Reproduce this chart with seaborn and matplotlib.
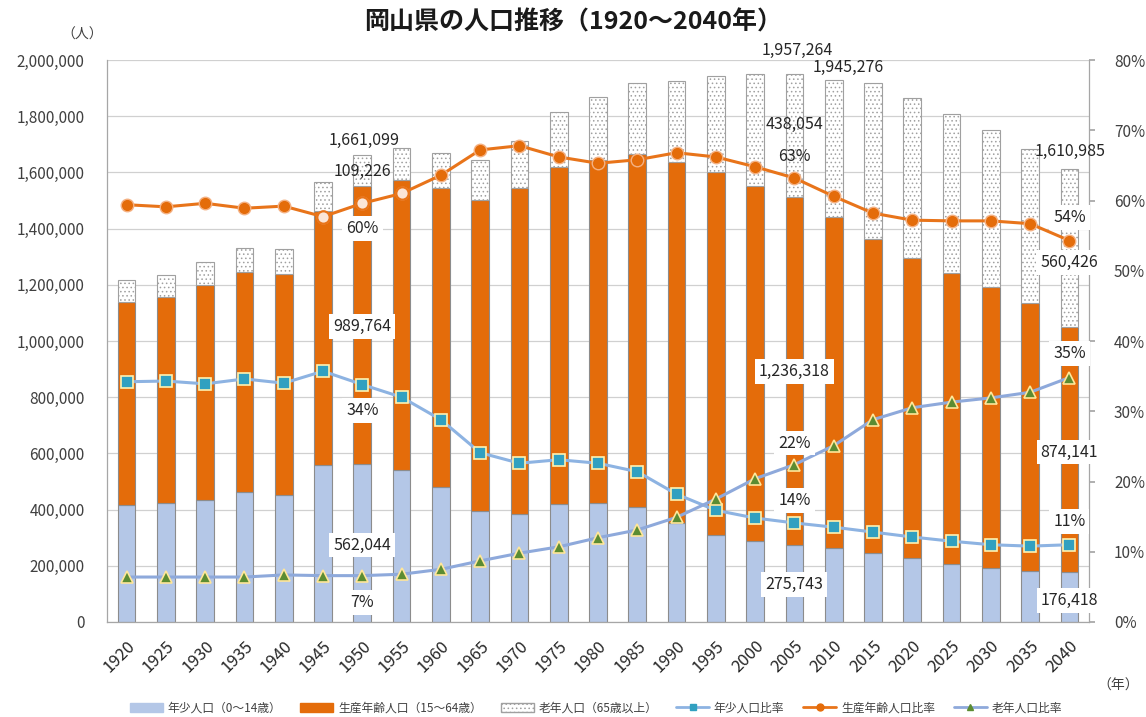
import numpy as np
import pandas as pd
import matplotlib
matplotlib.use("Agg")
import matplotlib.pyplot as plt
from matplotlib.ticker import FuncFormatter, FixedLocator
from matplotlib.patches import Patch
from matplotlib.lines import Line2D
import seaborn as sns

years = ["1920", "1925", "1930", "1935", "1940", "1945", "1950", "1955", "1960", "1965",
         "1970", "1975", "1980", "1985", "1990", "1995", "2000", "2005", "2010", "2015",
         "2020", "2025", "2030", "2035", "2040"]
young = [416000, 425000, 435000, 461000, 452000, 559000, 562044, 541000, 481000, 396000,
         386000, 419000, 423000, 410000, 351000, 310000, 289000, 275743, 263000, 246000,
         226000, 208000, 193000, 182000, 176418]
working = [723000, 732000, 765000, 785000, 787000, 903000, 989764, 1031000, 1062000, 1105000,
           1157000, 1201000, 1222000, 1256000, 1286000, 1291000, 1264000, 1236318, 1179000, 1118000,
           1070000, 1034000, 1000000, 953000, 874141]
elderly = [78000, 79000, 82000, 85000, 89000, 103000, 109226, 115000, 125000, 143000,
           167000, 194000, 225000, 251000, 287000, 341000, 398000, 438054, 488000, 553000,
           570000, 567000, 558000, 550000, 560426]
young_ratio = [34.2, 34.3, 33.9, 34.6, 34.0, 35.7, 33.8, 32.0, 28.8, 24.1,
               22.6, 23.1, 22.6, 21.4, 18.2, 15.9, 14.8, 14.1, 13.5, 12.8,
               12.1, 11.5, 11.0, 10.8, 11.0]
working_ratio = [59.4, 59.1, 59.6, 58.9, 59.2, 57.7, 59.6, 61.0, 63.6, 67.2,
                 67.8, 66.2, 65.3, 65.8, 66.8, 66.2, 64.8, 63.2, 60.6, 58.2,
                 57.2, 57.1, 57.1, 56.7, 54.3]
elderly_ratio = [6.4, 6.4, 6.4, 6.4, 6.7, 6.6, 6.6, 6.8, 7.5, 8.7,
                 9.8, 10.7, 12.0, 13.1, 14.9, 17.5, 20.4, 22.4, 25.1, 28.8,
                 30.5, 31.3, 31.9, 32.7, 34.8]
# working-ratio points drawn with a pale (hollow-looking) marker in the reference
pale_points = ["1945", "1950", "1955"]

# annotation texts: (text, x index, y value on left axis, boxed)
labels = [
    ("1,661,099", 6.04, 1712000, False),
    ("109,226", 6.0, 1602000, False),
    ("60%", 6.0, 1402000, True),
    ("989,764", 6.0, 1050000, True),
    ("34%", 6.0, 754000, True),
    ("562,044", 6.0, 274000, True),
    ("7%", 6.0, 68000, True),
    ("1,957,264", 17.06, 2033000, False),
    ("1,945,276", 18.36, 1972000, False),
    ("438,054", 17.0, 1769000, False),
    ("63%", 17.0, 1658000, False),
    ("1,236,318", 17.0, 890000, True),
    ("22%", 17.0, 637000, True),
    ("14%", 17.0, 434000, True),
    ("275,743", 17.0, 132000, True),
    ("1,610,985", 24.03, 1673000, False),
    ("54%", 24.0, 1441000, True),
    ("560,426", 24.0, 1278000, True),
    ("35%", 24.0, 957000, True),
    ("874,141", 24.0, 605000, True),
    ("11%", 24.0, 356000, True),
    ("176,418", 24.0, 78000, True),
]

sns.set_theme(style="white")
plt.rcParams["font.family"] = ["Noto Sans CJK JP", "DejaVu Sans"]
plt.rcParams["hatch.linewidth"] = 0.6

C_YOUNG = "#b4c7e7"
C_WORK = "#e46c0a"
C_EDGE = "#8c8c8c"
C_TEXT = "#404040"

fig = plt.figure(figsize=(11.46, 7.17), dpi=100)
ax = fig.add_axes([107 / 1146, 1 - 622 / 717, (1089 - 107) / 1146, (622 - 60) / 717])

idx = np.arange(len(years))
df = pd.DataFrame({"idx": idx, "year": years, "young": young, "working": working,
                   "elderly": elderly, "yr": young_ratio, "wr": working_ratio,
                   "er": elderly_ratio})

bw = 0.45
ax.bar(idx, df["young"], width=bw, color=C_YOUNG, edgecolor=C_EDGE, linewidth=0.8, zorder=2)
ax.bar(idx, df["working"], bottom=df["young"], width=bw, color=C_WORK, edgecolor=C_EDGE,
       linewidth=0.8, zorder=2)
ax.bar(idx, df["elderly"], bottom=df["young"] + df["working"], width=bw, color="white",
       edgecolor="#a0a0a0", hatch="....", linewidth=0.8, zorder=2)

ax.set_xlim(-0.5, 24.5)
ax.set_ylim(0, 2000000)
ax.set_yticks(np.arange(0, 2000001, 200000))
ax.yaxis.set_major_formatter(FuncFormatter(lambda v, p: f"{int(v):,}"))
ax.grid(axis="y", color="#d0d0d0", linewidth=0.9, zorder=0)
ax.set_axisbelow(True)
ax.set_xticks(idx)
ax.set_xticklabels(years, rotation=45, ha="right", rotation_mode="anchor", fontsize=12,
                   color="#262626")
ax.xaxis.set_minor_locator(FixedLocator(np.arange(-0.5, 25, 1)))
ax.tick_params(axis="x", which="major", length=0, pad=11)
ax.tick_params(axis="x", which="minor", length=6, color=C_EDGE, width=0.8, direction="out")
ax.tick_params(axis="y", labelsize=11, colors=C_TEXT, length=0, pad=16)
for s in ["left", "bottom", "right"]:
    ax.spines[s].set_color("#a6a6a6")
    ax.spines[s].set_linewidth(0.9)
ax.spines["top"].set_visible(False)
ax.set_xlabel("")
ax.set_ylabel("")

ax2 = ax.twinx()
sns.lineplot(data=df, x="idx", y="wr", ax=ax2, color="#e8741a", linewidth=2.2, marker="o",
             markersize=9, markerfacecolor="#e46c0a", markeredgecolor="#f4b183",
             markeredgewidth=1.0, zorder=5)
pale = df[df["year"].isin(pale_points)]
sns.scatterplot(data=pale, x="idx", y="wr", ax=ax2, s=80, color="#fbe5d6",
                edgecolor="#e8741a", linewidth=1.6, zorder=6)
sns.lineplot(data=df, x="idx", y="yr", ax=ax2, color="#8db3e2", linewidth=2.2, marker="s",
             markersize=8, markerfacecolor="#31a0c0", markeredgecolor="#fff2b0",
             markeredgewidth=1.2, zorder=5)
sns.lineplot(data=df, x="idx", y="er", ax=ax2, color="#8ea9db", linewidth=2.2, marker="^",
             markersize=9, markerfacecolor="#5b8c32", markeredgecolor="#ffe699",
             markeredgewidth=1.2, zorder=5)
ax2.set_ylim(0, 80)
ax2.set_yticks(np.arange(0, 81, 10))
ax2.yaxis.set_major_formatter(FuncFormatter(lambda v, p: f"{int(v)}%"))
ax2.tick_params(axis="y", labelsize=11, colors=C_TEXT, length=4, color="#a6a6a6", pad=14)
ax2.set_xlabel("")
ax2.set_ylabel("")
ax2.grid(False)
for s in ["left", "bottom", "right", "top"]:
    ax2.spines[s].set_visible(False)
ax2.set_xlim(-0.5, 24.5)

for txt, xx, yy, boxed in labels:
    kw = dict(ha="center", va="center", fontsize=11.5, color="#262626", zorder=10,
              clip_on=False)
    if boxed:
        kw["bbox"] = dict(boxstyle="square,pad=0.25", facecolor="white", edgecolor="none")
    ax2.text(xx, yy / 25000, txt, **kw)

fig.text(0.5, 1 - 22 / 717, "岡山県の人口推移（1920～2040年）", ha="center", va="center",
         fontsize=18, fontweight="bold", color="#1a1a1a")
fig.text(82 / 1146, 1 - 35 / 717, "（人）", ha="center", va="center", fontsize=10, color=C_TEXT)
fig.text(1118 / 1146, 1 - 686 / 717, "（年）", ha="center", va="center", fontsize=10, color=C_TEXT)

handles = [
    Patch(facecolor=C_YOUNG, edgecolor=C_YOUNG),
    Patch(facecolor=C_WORK, edgecolor=C_WORK),
    Patch(facecolor="white", edgecolor="#a0a0a0", hatch="...."),
    Line2D([], [], color="#8db3e2", lw=2, marker="s", markersize=5, markerfacecolor="#31a0c0",
           markeredgecolor="#31a0c0"),
    Line2D([], [], color="#e8741a", lw=2, marker="o", markersize=5, markerfacecolor="#e46c0a",
           markeredgecolor="#e46c0a"),
    Line2D([], [], color="#8ea9db", lw=2, marker="^", markersize=5, markerfacecolor="#5b8c32",
           markeredgecolor="#5b8c32"),
]
names = ["年少人口（0～14歳）", "生産年齢人口（15～64歳）", "老年人口（65歳以上）",
         "年少人口比率", "生産年齢人口比率", "老年人口比率"]
fig.legend(handles, names, loc="center", bbox_to_anchor=(596 / 1146, 1 - 708 / 717), ncol=6,
           frameon=False, fontsize=8.5, handlelength=2.8, handleheight=0.7, columnspacing=1.6,
           handletextpad=0.4, labelcolor=C_TEXT)

fig.savefig("out.png", dpi=100)
